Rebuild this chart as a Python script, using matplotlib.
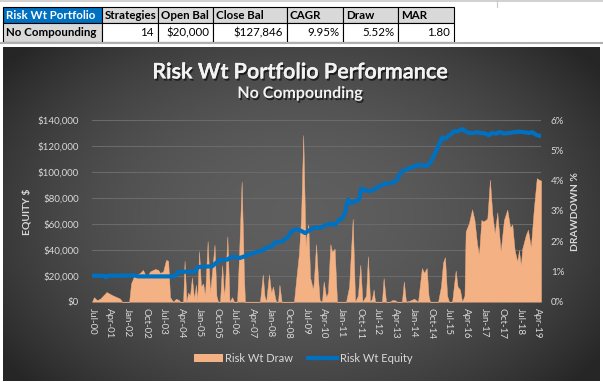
import numpy as np
import matplotlib
matplotlib.use("Agg")
import matplotlib.pyplot as plt
import matplotlib.dates as mdates
from matplotlib.patches import Rectangle, Patch
from matplotlib.lines import Line2D
from matplotlib.ticker import FuncFormatter, MultipleLocator
import matplotlib.patheffects as pe
from datetime import datetime

plt.rcParams['font.family'] = ['Lato', 'DejaVu Sans']

# ---------------- data ----------------
table_headers = ["Risk Wt Portfolio", "Strategies", "Open Bal", "Close Bal", "CAGR", "Draw", "MAR"]
table_values = ["No Compounding", "14", "$20,000", "$127,846", "9.95%", "5.52%", "1.80"]

chart_title = "Risk Wt Portfolio Performance"
chart_subtitle = "No Compounding"
left_axis_title = "EQUITY $"
right_axis_title = "DRAWDOWN %"
series_names = ["Risk Wt Draw", "Risk Wt Equity"]

tick_labels = ["Jul-00", "Apr-01", "Jan-02", "Oct-02", "Jul-03", "Apr-04", "Jan-05",
               "Oct-05", "Jul-06", "Apr-07", "Jan-08", "Oct-08", "Jul-09", "Apr-10",
               "Jan-11", "Oct-11", "Jul-12", "Apr-13", "Jan-14", "Oct-14", "Jul-15",
               "Apr-16", "Jan-17", "Oct-17", "Jul-18", "Apr-19"]

# drawdown (%), dates as decimal years
draw_years = [2000.50, 2000.58, 2000.71, 2000.84, 2001.11, 2001.34, 2001.68, 2001.76,
              2002.06, 2002.14, 2002.27, 2002.52, 2002.64, 2002.79, 2002.94, 2003.15,
              2003.28, 2003.36, 2003.49, 2003.61, 2003.70, 2003.78, 2003.91, 2004.03,
              2004.16, 2004.20, 2004.33, 2004.39, 2004.47, 2004.54, 2004.62, 2004.70,
              2004.79, 2004.87, 2004.92, 2005.00, 2005.08, 2005.17, 2005.25, 2005.36,
              2005.46, 2005.55, 2005.65, 2005.73, 2005.80, 2005.88, 2005.97, 2006.05,
              2006.09, 2006.19, 2006.28, 2006.39, 2006.47, 2006.60, 2006.68, 2006.79,
              2006.89, 2006.93, 2007.56, 2007.68, 2007.75, 2007.82, 2007.94, 2008.03,
              2008.11, 2008.19, 2008.24, 2008.32, 2008.38, 2008.47, 2008.99, 2009.08,
              2009.20, 2009.29, 2009.38, 2009.48, 2009.52, 2009.59, 2009.67, 2009.79,
              2009.83, 2009.92, 2010.00, 2010.07, 2010.17, 2010.24, 2010.34, 2010.42,
              2010.52, 2010.59, 2010.70, 2010.80, 2011.18, 2011.31, 2011.46, 2011.56,
              2011.68, 2011.78, 2011.87, 2012.02, 2012.10, 2012.19, 2012.27, 2012.34,
              2012.40, 2012.69, 2012.76, 2012.86, 2013.03, 2013.11, 2013.24, 2013.32,
              2013.53, 2013.61, 2013.70, 2013.91, 2014.04, 2014.21, 2014.25, 2014.37,
              2014.46, 2014.57, 2014.65, 2014.71, 2015.05, 2015.17, 2015.26, 2015.34,
              2015.43, 2015.51, 2015.64, 2015.79, 2015.87, 2015.97, 2016.06, 2016.16,
              2016.21, 2016.35, 2016.48, 2016.58, 2016.69, 2016.77, 2016.87, 2016.95,
              2017.05, 2017.12, 2017.23, 2017.33, 2017.43, 2017.54, 2017.68, 2017.82,
              2017.96, 2018.08, 2018.17, 2018.27, 2018.38, 2018.45, 2018.53, 2018.59,
              2018.74, 2018.83, 2018.95, 2019.08, 2019.20, 2019.29, 2019.38]
draw_pct = [0.00, 0.15, 0.05, 0.10, 0.32, 0.22, 0.10, 0.00,
            0.00, 0.60, 0.85, 0.95, 1.05, 0.80, 1.00, 1.08,
            1.05, 0.95, 1.00, 1.38, 1.35, 0.15, 0.00, 0.10,
            0.05, 0.00, 0.00, 1.35, 0.00, 0.30, 0.20, 0.80,
            0.10, 0.56, 0.00, 1.67, 0.50, 0.60, 0.20, 2.00,
            0.30, 1.00, 1.88, 0.20, 0.00, 0.00, 1.20, 0.20,
            0.50, 2.16, 0.00, 0.15, 0.00, 0.00, 1.50, 3.97,
            0.80, 0.00, 0.00, 0.90, 0.20, 0.00, 0.90, 0.30,
            0.50, 0.15, 0.00, 0.00, 0.56, 0.00, 0.00, 0.70,
            1.60, 2.80, 5.50, 1.80, 2.20, 2.55, 0.80, 0.40,
            0.70, 1.90, 0.80, 0.05, 0.00, 0.67, 0.15, 0.30,
            1.90, 1.65, 1.75, 0.00, 0.00, 0.50, 2.74, 0.00,
            0.20, 1.22, 0.00, 0.20, 1.50, 0.00, 0.10, 0.40,
            0.00, 0.00, 0.78, 0.00, 0.00, 0.05, 0.05, 0.00,
            0.00, 0.67, 0.00, 0.05, 0.10, 0.00, 0.30, 1.11,
            0.95, 1.11, 0.20, 0.00, 0.00, 0.50, 1.30, 1.47,
            0.20, 0.00, 0.00, 1.03, 0.50, 0.40, 0.00, 0.20,
            2.32, 2.60, 3.05, 2.70, 1.90, 1.55, 2.70, 2.65,
            2.70, 2.75, 4.03, 2.90, 2.25, 2.95, 1.66, 2.70,
            3.04, 2.45, 2.55, 1.70, 1.33, 1.70, 1.20, 1.75,
            2.20, 2.38, 1.80, 3.10, 4.08, 4.03, 4.00]

# equity ($), dates as decimal years
equity_years = [2000.50, 2001.00, 2001.09, 2001.17, 2002.31, 2002.43, 2003.99, 2004.12,
                2004.83, 2004.96, 2005.55, 2005.71, 2005.84, 2006.18, 2006.39, 2006.72,
                2007.06, 2007.44, 2007.65, 2007.86, 2008.07, 2008.15, 2008.53, 2008.74,
                2008.91, 2009.08, 2009.25, 2009.46, 2009.63, 2009.88, 2010.09, 2010.30,
                2010.51, 2010.72, 2010.89, 2011.01, 2011.14, 2011.26, 2011.43, 2011.56,
                2011.73, 2011.82, 2011.94, 2012.15, 2012.36, 2012.57, 2012.78, 2012.99,
                2013.20, 2013.32, 2013.46, 2013.66, 2013.87, 2014.08, 2014.25, 2014.46,
                2014.58, 2014.75, 2014.96, 2015.13, 2015.23, 2015.34, 2015.47, 2015.59,
                2015.72, 2015.89, 2016.07, 2016.22, 2016.35, 2016.56, 2016.69, 2016.86,
                2016.98, 2017.19, 2017.32, 2017.49, 2017.65, 2017.82, 2018.03, 2018.24,
                2018.45, 2018.66, 2018.87, 2019.00, 2019.16, 2019.29, 2019.38]
equity_usd = [20000, 20000, 18800, 20000, 20200, 19500, 19500, 23000,
              23200, 26800, 27300, 29800, 32000, 32400, 34800, 33700,
              36000, 38400, 39300, 41900, 42500, 45200, 46800, 50000,
              54500, 55800, 55000, 52900, 55000, 57300, 56800, 58900,
              60000, 59300, 63200, 64000, 68300, 78600, 76000, 77500,
              78600, 87100, 86500, 85000, 86500, 88900, 90500, 91400,
              92000, 94000, 99100, 101500, 103000, 104500, 105500, 105000,
              104500, 108000, 115900, 123000, 126600, 125500, 127500, 129000,
              131300, 131300, 133000, 131000, 130000, 130000, 130600, 129800,
              130000, 128200, 130000, 129500, 130800, 129500, 130000, 130600,
              131000, 130600, 130000, 130600, 128800, 127800, 127846]


def yr2num(y):
    y = np.asarray(y, float)
    base = mdates.date2num(datetime(2000, 1, 1))
    return base + (y - 2000.0) * 365.25


# ---------------- figure ----------------
W, H = 603, 382
fig = plt.figure(figsize=(W / 100, H / 100), dpi=100)
fig.patch.set_facecolor('white')

canvas = fig.add_axes([0, 0, 1, 1], zorder=0)
canvas.set_xlim(0, W)
canvas.set_ylim(H, 0)
canvas.axis('off')

# Excel sheet gridlines
canvas.plot([0, W], [0.8, 0.8], color='#C8C8C8', lw=1.2)
canvas.plot([0, W], [43, 43], color='#B0B0B0', lw=1.5)
canvas.plot([497, 497], [0, 6.5], color='#C8C8C8', lw=0.8)

# table
col_edges = [3, 102, 158, 213, 287, 343, 398, 454]
r1_top, r1_bot, r2_bot = 6.5, 22.7, 41.7
for i in range(len(table_headers)):
    x0, x1 = col_edges[i], col_edges[i + 1]
    fc = '#0070C0' if i == 0 else '#D9D9D9'
    canvas.add_patch(Rectangle((x0, r1_top), x1 - x0, r1_bot - r1_top, facecolor=fc,
                               edgecolor='black', lw=0.8))
    fc2 = '#D9D9D9' if i == 0 else 'white'
    canvas.add_patch(Rectangle((x0, r1_bot), x1 - x0, r2_bot - r1_bot, facecolor=fc2,
                               edgecolor='black', lw=0.8))
    canvas.text(x0 + 3, (r1_top + r1_bot) / 2 + 0.5, table_headers[i],
                color='white' if i == 0 else 'black', fontsize=8.3, fontweight='bold',
                ha='left', va='center')
    if i == 0:
        canvas.text(x0 + 3, (r1_bot + r2_bot) / 2 + 0.5, table_values[i], color='black',
                    fontsize=8.3, fontweight='bold', ha='left', va='center')
    else:
        canvas.text(x1 - 4, (r1_bot + r2_bot) / 2 + 0.5, table_values[i], color='black',
                    fontsize=8.3, ha='right', va='center')

# chart background gradient
cx0, cx1, cy0, cy1 = 3, 600, 47, 381
gx = np.linspace(cx0, cx1, 300)
gy = np.linspace(cy0, cy1, 200)
XX, YY = np.meshgrid(gx, gy)
rr = ((XX - 300) / 370.0) ** 2 + ((YY - 215) / 250.0) ** 2
val = np.clip(0.37 - 0.22 * rr, 0.15, 0.4)
img = np.dstack([val, val, val])
canvas.imshow(img, extent=(cx0, cx1, cy1, cy0), aspect='auto', interpolation='bilinear', zorder=1)

# titles
shadow = [pe.withSimplePatchShadow(offset=(1, -1), shadow_rgbFace='black', alpha=0.5)]
t1 = canvas.text(300, 72, chart_title, color='#F2F2F2', fontsize=15.5, fontweight='bold',
                 ha='center', va='center', zorder=3)
t1.set_path_effects([pe.withStroke(linewidth=0, foreground='none'),
                     pe.SimplePatchShadow(offset=(1, -1.5), shadow_rgbFace='black', alpha=0.6),
                     pe.Normal()])
t2 = canvas.text(300, 94, chart_subtitle, color='#F2F2F2', fontsize=11.5, fontweight='bold',
                 ha='center', va='center', zorder=3)
t2.set_path_effects([pe.SimplePatchShadow(offset=(1, -1.5), shadow_rgbFace='black', alpha=0.6),
                     pe.Normal()])
canvas.text(27, 212, left_axis_title, color='#D9D9D9', fontsize=7.5, fontweight='bold',
            rotation=90, ha='center', va='center', zorder=3)
canvas.text(575, 212, right_axis_title, color='#D9D9D9', fontsize=7.5, fontweight='bold',
            rotation=90, ha='center', va='center', zorder=3)

# plot axes
left, right, top, bottom = 92, 541, 120, 301.7
rect = [left / W, 1 - bottom / H, (right - left) / W, (bottom - top) / H]
ax = fig.add_axes(rect, zorder=2)
ax.patch.set_visible(False)
ax_dd = ax.twinx()
ax_dd.set_zorder(3)
ax_dd.patch.set_visible(False)
ax_ln = ax.twinx()
ax_ln.set_zorder(4)
ax_ln.patch.set_visible(False)

xmin = mdates.date2num(datetime(2000, 7, 1))
xmax = yr2num(2019.378)
ax.set_xlim(xmin, xmax)

# equity axis (left)
ax.set_ylim(0, 140000)
ax.yaxis.set_major_locator(MultipleLocator(20000))
ax.yaxis.set_major_formatter(FuncFormatter(lambda v, p: "${:,.0f}".format(v)))
ax.grid(axis='y', color='#6A6A6A', lw=0.8)
ax.set_axisbelow(True)

# drawdown axis (right)
ax_dd.set_ylim(0, 0.06)
ax_dd.yaxis.set_major_locator(MultipleLocator(0.01))
ax_dd.yaxis.set_major_formatter(FuncFormatter(lambda v, p: "{:.0f}%".format(v * 100)))
ax_dd.fill_between(yr2num(draw_years), 0, np.array(draw_pct) / 100.0, color='#F4B183',
                   lw=0.3, edgecolor='#F4B183')
ax_dd.axhline(0, color='#BFBFBF', lw=0.8)

ax_ln.set_ylim(0, 140000)
ax_ln.plot(yr2num(equity_years), equity_usd, color='#0070C0', lw=3.0, solid_joinstyle='round',
           solid_capstyle='round')
ax_ln.set_yticks([])

tick_pos = [mdates.date2num(datetime.strptime(t, "%b-%y")) for t in tick_labels]
ax.set_xticks(tick_pos)
ax.set_xticklabels(tick_labels, rotation=-90)

for a in (ax, ax_dd, ax_ln):
    for s in a.spines.values():
        s.set_visible(False)
ax.tick_params(axis='y', length=0, pad=9.5, labelsize=7, labelcolor='#D9D9D9')
ax.tick_params(axis='x', length=0, pad=4.5, labelsize=7, labelcolor='#D9D9D9')
ax_dd.tick_params(axis='y', length=0, pad=7, labelsize=7, labelcolor='#D9D9D9')
ax_ln.tick_params(axis='both', length=0)
for lab in ax.get_xticklabels():
    lab.set_va('top')
    lab.set_ha('center')

# legend
handles = [Patch(facecolor='#F4B183', edgecolor='none', label=series_names[0]),
           Line2D([0], [0], color='#0070C0', lw=3.0, label=series_names[1])]
leg = fig.legend(handles=handles, loc='center', bbox_to_anchor=(303 / W, 1 - 358 / H),
                 ncol=2, frameon=False, fontsize=8, labelcolor='#D9D9D9',
                 handlelength=2.6, handleheight=0.75, handletextpad=0.25, columnspacing=1.3)

fig.savefig('out.png', dpi=100, facecolor='white')
